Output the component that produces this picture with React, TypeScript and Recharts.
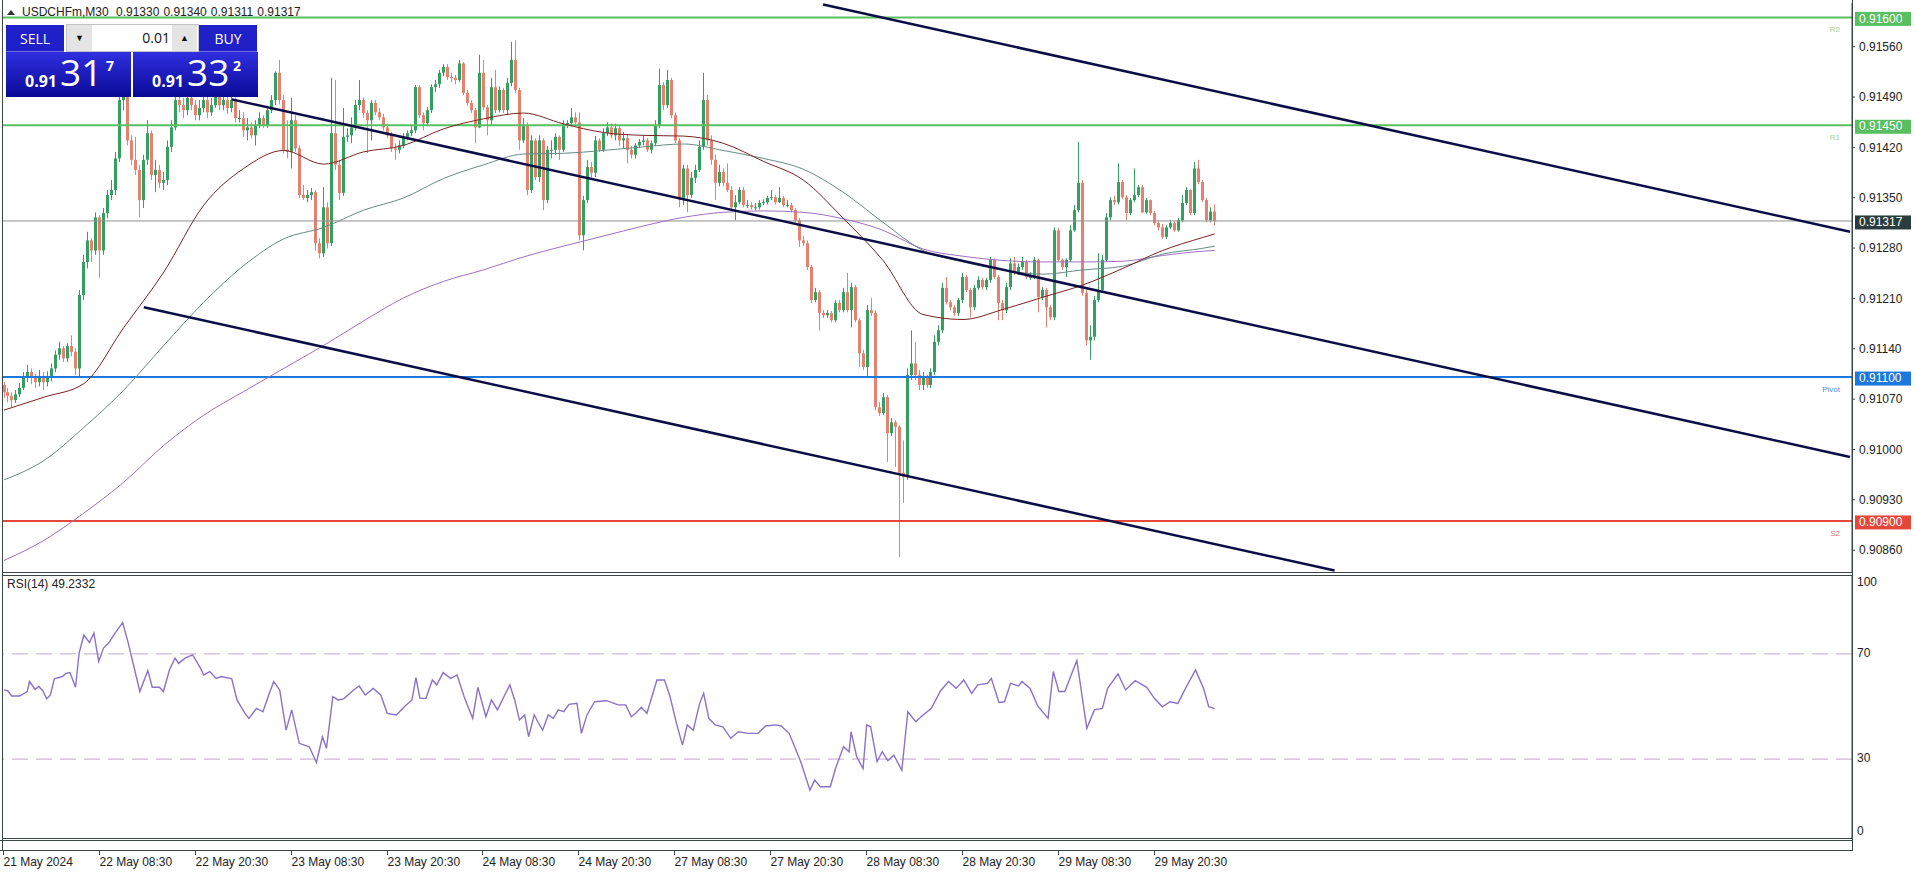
import React from 'react';
import { ComposedChart, Bar, Line, XAxis, YAxis, ReferenceLine } from 'recharts';

// ---- data (prices in points, 1e-5) ----
const firstOpen = 91089;

const closes = [
  91079, 91074, 91068, 91076, 91085, 91099, 91107, 91099, 91093, 91101,
  91093, 91099, 91112, 91131, 91140, 91126, 91143, 91135, 91112, 91214,
  91260, 91290, 91276, 91322, 91276, 91328, 91353, 91360, 91404, 91485,
  91496, 91429, 91402, 91388, 91346, 91402, 91439, 91381, 91388, 91370,
  91374, 91420, 91447, 91485, 91478, 91471, 91488, 91478, 91464, 91474,
  91485, 91468, 91478, 91492, 91478, 91485, 91474, 91485, 91460, 91460,
  91443, 91447, 91436, 91450, 91460, 91450, 91471, 91485, 91523, 91485,
  91416, 91413, 91457, 91418, 91353, 91349, 91353, 91357, 91286, 91272,
  91336, 91286, 91439, 91395, 91356, 91434, 91436, 91447, 91478, 91485,
  91467, 91457, 91481, 91468, 91461, 91447, 91436, 91418, 91416, 91422,
  91434, 91439, 91443, 91503, 91464, 91453, 91471, 91503, 91507, 91523,
  91531, 91517, 91516, 91513, 91536, 91495, 91481, 91471, 91447, 91523,
  91475, 91457, 91503, 91471, 91499, 91471, 91509, 91541, 91499, 91429,
  91450, 91360, 91429, 91378, 91429, 91346, 91416, 91416, 91434, 91416,
  91450, 91453, 91461, 91454, 91297, 91346, 91392, 91384, 91429, 91416,
  91439, 91447, 91436, 91446, 91429, 91432, 91416, 91409, 91422, 91427,
  91429, 91416, 91425, 91450, 91506, 91478, 91513, 91464, 91429, 91346,
  91390, 91353, 91377, 91388, 91420, 91485, 91429, 91402, 91370, 91385,
  91370, 91360, 91336, 91343, 91360, 91339, 91339, 91336, 91336, 91342,
  91343, 91349, 91350, 91343, 91349, 91339, 91339, 91332, 91318, 91290,
  91286, 91253, 91207, 91218, 91189, 91186, 91189, 91179, 91203, 91193,
  91218, 91193, 91225, 91179, 91133, 91114, 91193, 91189, 91058, 91050,
  91072, 91022, 91037, 91031, 90967, 90961, 91103, 91119, 91103, 91089,
  91099, 91089, 91107, 91149, 91165, 91224, 91204, 91197, 91189, 91207,
  91239, 91221, 91197, 91224, 91235, 91225, 91235, 91263, 91239, 91203,
  91193, 91225, 91258, 91245, 91253, 91260, 91239, 91239, 91263, 91211,
  91221, 91197, 91183, 91304, 91263, 91253, 91263, 91304, 91332, 91370,
  91217, 91151, 91156, 91207, 91221, 91263, 91322, 91346, 91343, 91371,
  91350, 91328, 91346, 91353, 91364, 91329, 91346, 91328, 91314, 91308,
  91295, 91308, 91314, 91304, 91318, 91342, 91360, 91328, 91390, 91371,
  91346, 91318, 91330, 91317,
];

const highs = [
  91093, 91085, 91079, 91082, 91092, 91107, 91117, 91112, 91104, 91110,
  91107, 91108, 91119, 91137, 91149, 91143, 91147, 91158, 91140, 91221,
  91270, 91302, 91293, 91329, 91325, 91335, 91360, 91374, 91413, 91492,
  91513, 91499, 91436, 91434, 91395, 91409, 91457, 91443, 91402, 91395,
  91385, 91429, 91457, 91495, 91496, 91488, 91502, 91496, 91485, 91485,
  91499, 91491, 91488, 91502, 91496, 91493, 91491, 91492, 91489, 91471,
  91468, 91460, 91454, 91457, 91468, 91464, 91477, 91492, 91525, 91541,
  91492, 91457, 91488, 91464, 91422, 91367, 91360, 91363, 91360, 91293,
  91364, 91343, 91516, 91513, 91402, 91474, 91446, 91461, 91485, 91513,
  91489, 91471, 91485, 91485, 91474, 91466, 91452, 91441, 91425, 91429,
  91439, 91443, 91449, 91506, 91506, 91468, 91475, 91507, 91513, 91527,
  91535, 91535, 91523, 91520, 91541, 91538, 91499, 91485, 91474, 91548,
  91541, 91478, 91516, 91527, 91504, 91502, 91516, 91566, 91568, 91502,
  91460, 91454, 91436, 91432, 91436, 91432, 91421, 91429, 91439, 91436,
  91457, 91457, 91474, 91468, 91468, 91352, 91402, 91399, 91435, 91432,
  91446, 91454, 91452, 91452, 91449, 91441, 91438, 91421, 91425, 91431,
  91436, 91432, 91429, 91457, 91529, 91510, 91527, 91516, 91468, 91432,
  91395, 91395, 91385, 91395, 91429, 91523, 91492, 91436, 91409, 91395,
  91390, 91397, 91365, 91353, 91364, 91364, 91346, 91343, 91342, 91346,
  91347, 91352, 91360, 91353, 91364, 91352, 91346, 91342, 91335, 91321,
  91296, 91290, 91256, 91224, 91221, 91193, 91193, 91192, 91207, 91207,
  91224, 91245, 91231, 91228, 91182, 91138, 91200, 91210, 91193, 91065,
  91078, 91075, 91043, 91040, 91033, 91012, 91112, 91165, 91149, 91110,
  91107, 91103, 91112, 91158, 91172, 91231, 91239, 91207, 91200, 91210,
  91245, 91242, 91224, 91228, 91240, 91238, 91238, 91267, 91265, 91242,
  91207, 91231, 91265, 91267, 91258, 91267, 91263, 91246, 91267, 91265,
  91225, 91224, 91200, 91308, 91307, 91265, 91265, 91311, 91339, 91427,
  91374, 91221, 91172, 91213, 91272, 91270, 91328, 91350, 91352, 91397,
  91374, 91353, 91349, 91390, 91367, 91367, 91349, 91347, 91331, 91318,
  91313, 91311, 91318, 91317, 91321, 91353, 91364, 91361, 91399, 91402,
  91374, 91349, 91336, 91340,
];

const lows = [
  91071, 91065, 91058, 91064, 91072, 91082, 91093, 91090, 91085, 91087,
  91082, 91087, 91094, 91107, 91124, 91121, 91121, 91129, 91103, 91099,
  91207, 91251, 91260, 91270, 91238, 91270, 91321, 91346, 91353, 91399,
  91471, 91422, 91395, 91381, 91322, 91335, 91395, 91374, 91357, 91363,
  91360, 91367, 91413, 91443, 91468, 91460, 91464, 91471, 91457, 91457,
  91468, 91460, 91463, 91474, 91471, 91471, 91466, 91468, 91454, 91454,
  91434, 91429, 91432, 91422, 91446, 91446, 91446, 91467, 91478, 91479,
  91411, 91404, 91390, 91413, 91349, 91346, 91343, 91346, 91276, 91265,
  91267, 91279, 91282, 91388, 91346, 91352, 91427, 91425, 91443, 91471,
  91460, 91411, 91429, 91464, 91457, 91443, 91432, 91413, 91402, 91411,
  91418, 91429, 91435, 91439, 91460, 91443, 91449, 91467, 91496, 91502,
  91518, 91513, 91510, 91507, 91510, 91492, 91477, 91467, 91425, 91446,
  91471, 91436, 91450, 91467, 91468, 91467, 91464, 91504, 91495, 91416,
  91425, 91353, 91356, 91374, 91371, 91332, 91342, 91404, 91409, 91402,
  91413, 91446, 91450, 91450, 91290, 91276, 91342, 91377, 91378, 91413,
  91413, 91435, 91432, 91429, 91421, 91418, 91397, 91404, 91404, 91418,
  91422, 91413, 91411, 91421, 91446, 91471, 91474, 91460, 91425, 91336,
  91339, 91329, 91349, 91370, 91385, 91416, 91422, 91395, 91346, 91365,
  91365, 91357, 91332, 91318, 91340, 91336, 91335, 91333, 91332, 91333,
  91339, 91340, 91346, 91340, 91342, 91336, 91336, 91329, 91315, 91281,
  91282, 91249, 91203, 91204, 91165, 91182, 91182, 91176, 91176, 91190,
  91190, 91190, 91169, 91176, 91114, 91110, 91099, 91185, 91054, 91046,
  91047, 90982, 91018, 90975, 90850, 90925, 90957, 91096, 91096, 91082,
  91082, 91085, 91085, 91103, 91144, 91161, 91201, 91193, 91185, 91185,
  91203, 91218, 91183, 91193, 91221, 91222, 91221, 91231, 91236, 91179,
  91179, 91189, 91221, 91242, 91242, 91249, 91236, 91235, 91236, 91190,
  91207, 91169, 91179, 91179, 91260, 91249, 91239, 91260, 91302, 91329,
  91213, 91144, 91124, 91151, 91204, 91218, 91260, 91318, 91339, 91340,
  91347, 91318, 91325, 91343, 91350, 91328, 91327, 91325, 91311, 91304,
  91292, 91292, 91306, 91302, 91302, 91315, 91339, 91325, 91325, 91368,
  91343, 91315, 91315, 91311,
];

// moving averages, read every 10 bars
const maBars = [0, 10, 20, 30, 40, 50, 60, 70, 80, 90, 100, 110, 120, 130, 140, 150,
  160, 170, 180, 190, 200, 210, 220, 230, 240, 250, 260, 270, 280, 290, 300, 303];
const maFast = [91054, 91072, 91091, 91169, 91246, 91339, 91390, 91415, 91396, 91413, 91422,
  91445, 91459, 91467, 91452, 91440, 91436, 91435, 91425, 91400, 91374, 91321, 91262, 91187,
  91180, 91194, 91211, 91228, 91251, 91276, 91294, 91299];
const maMid = [90957, 90984, 91030, 91082, 91144, 91204, 91255, 91292, 91308, 91332, 91349,
  91376, 91395, 91410, 91411, 91415, 91420, 91424, 91415, 91404, 91389, 91357, 91315, 91276,
  91260, 91249, 91243, 91249, 91254, 91271, 91279, 91282];
const maSlow = [90845, 90873, 90911, 90954, 91005, 91047, 91080, 91112, 91144, 91178, 91210,
  91233, 91249, 91267, 91282, 91296, 91310, 91322, 91329, 91331, 91329, 91320, 91304, 91278,
  91268, 91262, 91260, 91260, 91261, 91269, 91275, 91276];

// RSI(14) vertices
const rsiBars = [0, 0.95, 1.9, 3.9, 5.8, 6.4, 7.8, 8.7, 9.7, 10.7,
  11.6, 12.6, 14.6, 15.5, 16.5, 17.9, 18.8, 20, 21.4, 22.5,
  23.7, 24.9, 26.2, 27.8, 29.7, 31.1, 32.5, 34, 36, 37.1,
  38.9, 39.9, 41.4, 42.8, 43.7, 45.3, 47.2, 49.2, 50, 51.5,
  53.1, 54.4, 57, 58.3, 60.3, 61.3, 63.2, 64.8, 66.1, 67.5,
  69, 70.6, 72, 73.9, 76.4, 78.2, 79.7, 80.7, 82.3, 83.6,
  85, 87.5, 88.9, 90.4, 92.4, 94.3, 95.9, 98.2, 100.2, 102.1,
  103.1, 104.1, 105.6, 107.2, 108.3, 109.9, 111.8, 113.4, 115.3, 117.3,
  118.6, 120.6, 122, 123.5, 125.1, 126.6, 127.8, 129, 130.3, 131.3,
  132.7, 133.6, 134.8, 136.2, 137.5, 138.7, 140.1, 141.4, 143.4, 144.5,
  145.9, 147.8, 150.8, 153.7, 155.6, 157, 158.1, 159.5, 160.9, 163.4,
  165.3, 166.7, 168.3, 169.8, 171, 172.5, 174.1, 175.1, 176.4, 178,
  179.9, 181.9, 183.8, 186.2, 188.7, 190.6, 193.2, 194.5, 196.5, 199.4,
  201.7, 202.9, 204.3, 206.8, 208.1, 210.1, 211.5, 212, 213.4, 215,
  215.9, 216.9, 218.5, 219.8, 221.2, 222.7, 224.7, 226.2, 228.2, 229.5,
  232.1, 234.4, 236.4, 238.3, 240.2, 242.2, 243.7, 246.1, 247.1, 249,
  250.4, 251.9, 253.9, 254.8, 256.8, 258.7, 261.3, 262.6, 264, 265.5,
  268.5, 271, 272.9, 274.9, 276.2, 278.8, 280.7, 283.1, 286, 287.9,
  289.9, 291.8, 293.8, 295.7, 298.2, 300.2, 301.5, 303];
const rsiVals = [56.3, 56.0, 54.0, 54.0, 55.7, 59.5, 56.5, 57.6, 56.0, 52.9,
  54.4, 60.5, 61.4, 62.6, 62.9, 57.3, 70.3, 77.2, 74.3, 77.9,
  67.1, 72.2, 74.1, 77.9, 81.9, 74.1, 65.2, 55.7, 63.7, 57.3,
  57.3, 55.7, 63.9, 68.4, 66.4, 68.4, 69.6, 64.5, 62.0, 63.3,
  60.7, 61.4, 60.5, 52.5, 47.4, 45.5, 49.3, 48.0, 53.7, 59.5,
  56.3, 41.0, 48.7, 36.0, 34.7, 28.7, 38.5, 34.1, 53.7, 52.5,
  52.9, 56.3, 57.8, 54.4, 56.9, 54.4, 47.4, 46.8, 49.9, 52.5,
  61.0, 53.1, 53.1, 60.1, 58.2, 62.9, 60.7, 62.0, 53.1, 45.5,
  57.3, 46.1, 52.5, 48.7, 53.7, 58.2, 52.5, 44.9, 46.8, 38.5,
  46.8, 44.2, 41.0, 46.8, 45.5, 48.7, 48.0, 50.8, 51.2, 39.8,
  46.8, 51.8, 52.2, 50.6, 50.6, 46.1, 47.4, 49.7, 47.4, 60.1,
  60.1, 53.7, 43.6, 35.3, 43.0, 41.0, 51.2, 55.0, 45.5, 43.0,
  42.3, 37.9, 40.4, 39.8, 39.8, 42.6, 43.0, 42.6, 39.8, 29.0,
  18.2, 22.0, 19.5, 19.5, 26.4, 34.7, 32.8, 40.4, 30.9, 26.4,
  43.0, 42.3, 29.0, 32.8, 29.4, 31.5, 25.8, 48.0, 44.2, 46.1,
  49.3, 56.0, 59.5, 56.9, 60.1, 55.0, 58.2, 58.8, 60.7, 51.5,
  51.8, 58.8, 57.8, 59.5, 56.9, 50.2, 45.5, 63.3, 55.7, 55.7,
  67.5, 41.7, 48.7, 49.3, 56.9, 62.4, 56.3, 59.8, 57.3, 53.1,
  49.9, 51.8, 51.2, 56.9, 63.9, 56.9, 49.9, 49.2];

// trend channel (bar index, price)
const channelX = [[205, 462], [57, 462], [35, 333]];
const channelY = [[91618, 91302], [91486, 90989], [91197, 90831]];

const levelNames = ['R2', 'R1', 'Pivot', 'S2'];
const levelValues = [0.916, 0.9145, 0.911, 0.909];
const lastPrice = 0.91317;
const headerValues = ['0.91330', '0.91340', '0.91311', '0.91317'];
const rsiLabel = 'RSI(14) 49.2332';

const priceTicks = [0.9156, 0.9149, 0.9142, 0.9135, 0.9128, 0.9121, 0.9114, 0.9107, 0.91, 0.9093, 0.9086];
const rsiTicks = [0, 30, 70, 100];
const timeTicks = [0, 24, 48, 72, 96, 120, 144, 168, 192, 216, 240, 264, 288];
const timeLabels = ['21 May 2024', '22 May 08:30', '22 May 20:30', '23 May 08:30', '23 May 20:30',
  '24 May 08:30', '24 May 20:30', '27 May 08:30', '27 May 20:30', '28 May 08:30', '28 May 20:30',
  '29 May 08:30', '29 May 20:30'];

// ---- build chart rows ----
const SLOTS = 463;
const pt = (v: number) => v / 100000;

const rows: any[] = Array.from({ length: SLOTS }, (_, i) => {
  const r: any = { i };
  if (i < closes.length) {
    r.o = pt(i === 0 ? firstOpen : closes[i - 1]);
    r.c = pt(closes[i]);
    r.h = pt(highs[i]);
    r.l = pt(lows[i]);
    r.range = [r.l, r.h];
  }
  return r;
});
maBars.forEach((b, k) => {
  rows[b].maFast = pt(maFast[k]);
  rows[b].maMid = pt(maMid[k]);
  rows[b].maSlow = pt(maSlow[k]);
});
const rsiData = rsiBars.map((x, k) => ({ x, rsi: rsiVals[k] }));

const FONT = '"Liberation Sans", Arial, sans-serif';
const GREEN = '#34a060';
const RED = '#e6806f';
const NAVY = '#0d0d46';
const AXIS = '#3b4747';
const levelColor: Record<string, string> = { R2: '#58c060', R1: '#58c060', Pivot: '#1c78dc', S2: '#e6473b' };
const tagColor: Record<string, string> = { R2: '#9ad49c', R1: '#9ad49c', Pivot: '#4a8ee0', S2: '#e27a72' };

const Candle = (props: any) => {
  const { x, y, width, height, payload } = props;
  if (!payload || payload.c == null || y == null || height == null) return <g />;
  const top = Math.min(y, y + height);
  const span = Math.abs(height);
  const { o, c, h, l } = payload;
  const k = h - l > 0 ? span / (h - l) : 0;
  const yOf = (v: number) => top + (h - v) * k;
  const cx = Math.floor(x + width / 2) + 0.5;
  const color = c >= o ? GREEN : RED;
  const bTop = yOf(Math.max(o, c));
  const bBot = yOf(Math.min(o, c));
  return (
    <g>
      <line x1={cx} x2={cx} y1={top} y2={top + span} stroke={color} strokeWidth={1} />
      <rect x={cx - 1.5} y={bTop} width={3} height={Math.max(1, bBot - bTop)} fill={color} />
    </g>
  );
};

const PriceTick = (props: any) => {
  const { x, y, payload } = props;
  const v = payload.value;
  const li = levelValues.findIndex((lv) => Math.abs(lv - v) < 1e-7);
  const isLast = Math.abs(v - lastPrice) < 1e-7;
  if (li >= 0 || isLast) {
    const fill = isLast ? '#2a3c3d' : levelColor[levelNames[li]];
    return (
      <g>
        <rect x={x - 4} y={y - 5.5} width={56} height={14} fill={fill} />
        <text x={x} y={y + 2} dominantBaseline="middle" fontSize={12} fontFamily={FONT} fill="#fff">{v.toFixed(5)}</text>
      </g>
    );
  }
  return (
    <g>
      <line x1={x - 7} x2={x - 4} y1={y + 0.5} y2={y + 0.5} stroke={AXIS} />
      <text x={x} y={y + 1.5} dominantBaseline="middle" fontSize={12} fontFamily={FONT} fill="#222">{v.toFixed(5)}</text>
    </g>
  );
};

const RsiTick = (props: any) => {
  const { x, y, payload } = props;
  const v = payload.value;
  const dy = v === 100 ? 8 : v === 0 ? -6 : 0;
  return (
    <text x={x - 2} y={y + dy} dominantBaseline="middle" fontSize={12} fontFamily={FONT} fill="#222">{v}</text>
  );
};

const TimeTick = (props: any) => {
  const { x, y, index } = props;
  const tx = Math.round(x) - 0.5;
  return (
    <g>
      <line x1={tx} x2={tx} y1={y + 12} y2={y + 17} stroke={AXIS} />
      <text x={tx} y={y + 28} fontSize={12} fontFamily={FONT} fill="#222">{timeLabels[index] ?? ''}</text>
    </g>
  );
};

const levelTag = (name: string) => (p: any) => {
  const vb = p.viewBox || {};
  return (
    <text x={(vb.x ?? 0) + (vb.width ?? 0) - 12} y={(vb.y ?? 0) + 15} textAnchor="end" fontSize={8} fontFamily={FONT} fill={tagColor[name]}>{name}</text>
  );
};

const PriceBox = ({ left, big, small, sup }: { left: number; big: string; small: string; sup: string }) => (
  <div style={{
    position: 'absolute', left, top: 52, width: 125, height: 45,
    background: 'linear-gradient(#2f2fe0, #0a0a96)', color: '#fff', fontFamily: '"Open Sans", sans-serif',
  }}>
    <span style={{ position: 'absolute', left: 19, top: 21, fontSize: 16, lineHeight: '16px', fontWeight: 700 }}>{small}</span>
    <span style={{ position: 'absolute', left: 54, top: 1, fontSize: 37, lineHeight: '37px' }}>{big}</span>
    <span style={{ position: 'absolute', left: 100, top: 7, fontSize: 14, lineHeight: '14px', fontWeight: 700 }}>{sup}</span>
  </div>
);

const TradePanel = () => {
  const btn: React.CSSProperties = {
    position: 'absolute', top: 25, width: 58, height: 27, background: '#2020c8', color: '#fff',
    fontFamily: '"Open Sans", sans-serif', fontSize: 14, lineHeight: '27px', textAlign: 'center',
    borderBottom: '1px solid #6b6be0', boxSizing: 'border-box',
  };
  const arrow: React.CSSProperties = {
    position: 'absolute', top: 0, width: 25, height: 26, background: '#e4e4e4', fontSize: 9,
    lineHeight: '26px', textAlign: 'center', color: '#111',
  };
  return (
    <div>
      <div style={{ ...btn, left: 6 }}>SELL</div>
      <div style={{ position: 'absolute', left: 66, top: 24, width: 131, height: 26, border: '1px solid #c4c4c4', background: '#fff' }}>
        <div style={{ ...arrow, left: 0 }}>▼</div>
        <div style={{ position: 'absolute', left: 27, top: 0, width: 76, height: 26, textAlign: 'right', fontFamily: '"Open Sans", sans-serif', fontSize: 14, lineHeight: '26px', color: '#111' }}>0.01</div>
        <div style={{ ...arrow, left: 105 }}>▲</div>
      </div>
      <div style={{ ...btn, left: 199 }}>BUY</div>
      <PriceBox left={6} small="0.91" big="31" sup="7" />
      <PriceBox left={133} small="0.91" big="33" sup="2" />
    </div>
  );
};

export default function App() {
  return (
    <div style={{ position: 'absolute', left: 0, top: 0, width: 1916, height: 874, background: '#fff', overflow: 'hidden', fontFamily: FONT }}>
      <div style={{ position: 'absolute', left: 0, top: 0 }}>
        <ComposedChart width={1916} height={575} data={rows} margin={{ top: 3, right: 0, bottom: 3, left: 2 }} barCategoryGap={0}>
          <XAxis dataKey="i" hide />
          <YAxis
            orientation="right" type="number" domain={[0.90829, 0.9162]} allowDataOverflow width={64}
            ticks={[...priceTicks, ...levelValues, lastPrice]} interval={0}
            axisLine={{ stroke: AXIS }} tickLine={false} tickSize={5} tickMargin={2}
            tick={(p: any) => <PriceTick {...p} />}
          />
          {levelValues.map((v, k) => (
            <ReferenceLine key={levelNames[k]} y={v} stroke={levelColor[levelNames[k]]} strokeWidth={2} label={levelTag(levelNames[k])} />
          ))}
          <ReferenceLine y={lastPrice} stroke="#909090" strokeWidth={1} />
          <Bar dataKey="range" shape={(p: any) => <Candle {...p} />} isAnimationActive={false} />
          <Line dataKey="maSlow" type="monotone" stroke="#a070bf" strokeWidth={1} dot={false} connectNulls isAnimationActive={false} />
          <Line dataKey="maMid" type="monotone" stroke="#688a86" strokeWidth={1} dot={false} connectNulls isAnimationActive={false} />
          <Line dataKey="maFast" type="monotone" stroke="#7a2222" strokeWidth={1} dot={false} connectNulls isAnimationActive={false} />
          {channelX.map((xs, k) => (
            <ReferenceLine
              key={'ch' + k}
              segment={[{ x: xs[0], y: pt(channelY[k][0]) }, { x: xs[1], y: pt(channelY[k][1]) }]}
              stroke={NAVY} strokeWidth={2.5} ifOverflow="hidden"
            />
          ))}
        </ComposedChart>
      </div>

      <div style={{ position: 'absolute', left: 0, top: 575 }}>
        <ComposedChart width={1916} height={299} data={rsiData} margin={{ top: 0, right: 0, bottom: 0, left: 2 }}>
          <XAxis
            dataKey="x" type="number" domain={[-0.5, 462.5]} allowDataOverflow ticks={timeTicks} interval={0}
            axisLine={false} tickLine={false} tickSize={0} tickMargin={0} height={36}
            tick={(p: any) => <TimeTick {...p} />}
          />
          <YAxis
            orientation="right" type="number" domain={[0, 100]} allowDataOverflow width={64}
            ticks={rsiTicks} interval={0} axisLine={{ stroke: AXIS }} tickLine={false} tickSize={5} tickMargin={2}
            tick={(p: any) => <RsiTick {...p} />}
          />
          <ReferenceLine y={70} stroke="#bfa6ca" strokeDasharray="16 8" />
          <ReferenceLine y={30} stroke="#bfa6ca" strokeDasharray="16 8" />
          <Line dataKey="rsi" type="linear" stroke="#8b72c9" strokeWidth={1.4} dot={false} isAnimationActive={false} />
        </ComposedChart>
      </div>

      {/* window frame */}
      <svg width={1916} height={874} style={{ position: 'absolute', left: 0, top: 0, pointerEvents: 'none' }}>
        <line x1={2.5} x2={2.5} y1={0} y2={851} stroke={AXIS} />
        <line x1={1852.5} x2={1852.5} y1={0} y2={851} stroke={AXIS} />
        <line x1={2} x2={1853} y1={572.5} y2={572.5} stroke={AXIS} />
        <line x1={2} x2={1853} y1={575.5} y2={575.5} stroke={AXIS} />
        <line x1={2} x2={1853} y1={838.5} y2={838.5} stroke={AXIS} />
        <line x1={0} x2={1853} y1={840.5} y2={840.5} stroke={AXIS} />
        <line x1={0} x2={1853} y1={850.5} y2={850.5} stroke={AXIS} />
        <polygon points="7,15 11,10 15,15" fill="#333" />
      </svg>

      <div style={{ position: 'absolute', left: 22, top: 5, fontSize: 12, lineHeight: '15px', color: '#222', whiteSpace: 'pre' }}>
        {'USDCHFm,M30 '}
        {headerValues.map((h) => (
          <span key={h} style={{ marginLeft: 4 }}>{h}</span>
        ))}
      </div>
      <div style={{ position: 'absolute', left: 7, top: 577, fontSize: 12, lineHeight: '15px', color: '#222' }}>{rsiLabel}</div>

      <TradePanel />
    </div>
  );
}
